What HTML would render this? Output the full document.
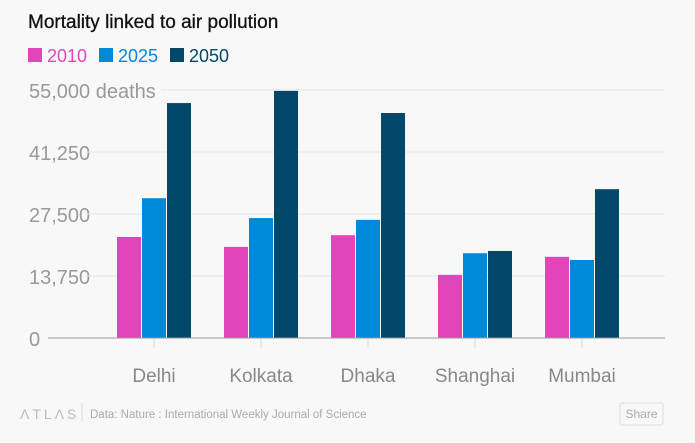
<!DOCTYPE html>
<html><head><meta charset="utf-8"><style>
body{margin:0;background:#f8f8f8;font-family:"Liberation Sans",sans-serif;}
#wrap{position:relative;width:695px;height:443px;overflow:hidden;}
</style></head><body>
<div id="wrap">
<svg id="chart" width="695" height="443"></svg>
</div>
<script>
const categories=["Delhi","Kolkata","Dhaka","Shanghai","Mumbai"];
const seriesNames=["2010","2025","2050"];
const v2010=[22400,20200,22800,14000,18000];
const v2025=[31000,26600,26200,18800,17300];
const v2050=[52100,54800,49900,19300,33000];
const ticks=[0,13750,27500,41250,55000];
const tickLabels=["0","13,750","27,500","41,250","55,000 deaths"];
const colors=["#e245b9","#0189d9","#00476a"];
const NS="http://www.w3.org/2000/svg";
const svg=document.getElementById('chart');
function mk(t,a,txt){const e=document.createElementNS(NS,t);for(const k in a)e.setAttribute(k,a[k]);if(txt!=null)e.textContent=txt;svg.appendChild(e);return e;}
const y0=338,yTop=90,yMax=55000;
const y=v=>y0-(v/yMax)*(y0-yTop);
const groupStart=117,groupStep=107,barW=24,barGap=1;
const xBar=(i,s)=>groupStart+i*groupStep+s*(barW+barGap);
let e=mk('text',{x:28,y:28,'font-size':19,fill:'#111','stroke':'#111','stroke-width':0.3},"Mortality linked to air pollution");


const legX=[28,99,170];
seriesNames.forEach((n,s)=>{
  const r=mk('rect',{x:legX[s],y:48,width:14,height:14,fill:colors[s]});
  
  
  const t=mk('text',{x:legX[s]+19,y:62,'font-size':18,fill:colors[s]},n);
  
  
});
ticks.forEach((tv,i)=>{
  const yy=y(tv);
  const label=mk('text',{x:29,y:yy+8,'font-size':20,fill:'#999'},tickLabels[i]);
  
  
  if(tv>0){
    const gx=i===ticks.length-1?161:86;
    const g=mk('line',{x1:gx,x2:665,y1:yy,y2:yy,stroke:'#e6e6e6','stroke-width':1});
    
    
  }
});
const all=[v2010,v2025,v2050];
categories.forEach((c,i)=>{
  all.forEach((arr,s)=>{
    const r=mk('rect',{x:xBar(i,s),y:y(arr[i]),width:barW,height:y0-y(arr[i]),fill:colors[s]});
    
    
  });
  const cx=xBar(i,1)+barW/2;
  const tk=mk('line',{x1:cx,x2:cx,y1:y0,y2:348,stroke:'#ddd'});
  
  
  const t=mk('text',{x:cx,y:382,'font-size':19,fill:'#888','text-anchor':'middle'},c);
  
  
});
const base=mk('line',{x1:48,x2:665,y1:y0,y2:y0,stroke:'#999','stroke-width':1});


const atlas=mk('text',{x:20,y:419,'font-size':14,fill:'#bbb','letter-spacing':'3'},"ΛTLΛS");


const sep=mk('line',{x1:82,x2:82,y1:403,y2:422,stroke:'#ddd'});


const src=mk('text',{x:90,y:418,'font-size':11.5,fill:'#aaa'},"Data: Nature : International Weekly Journal of Science");


const sb=mk('rect',{x:620,y:403,width:43,height:22,rx:2,fill:'#f8f8f8',stroke:'#ddd'});


const st=mk('text',{x:641.5,y:418,'font-size':12,fill:'#aaa','text-anchor':'middle'},"Share");


</script>
</body></html>
